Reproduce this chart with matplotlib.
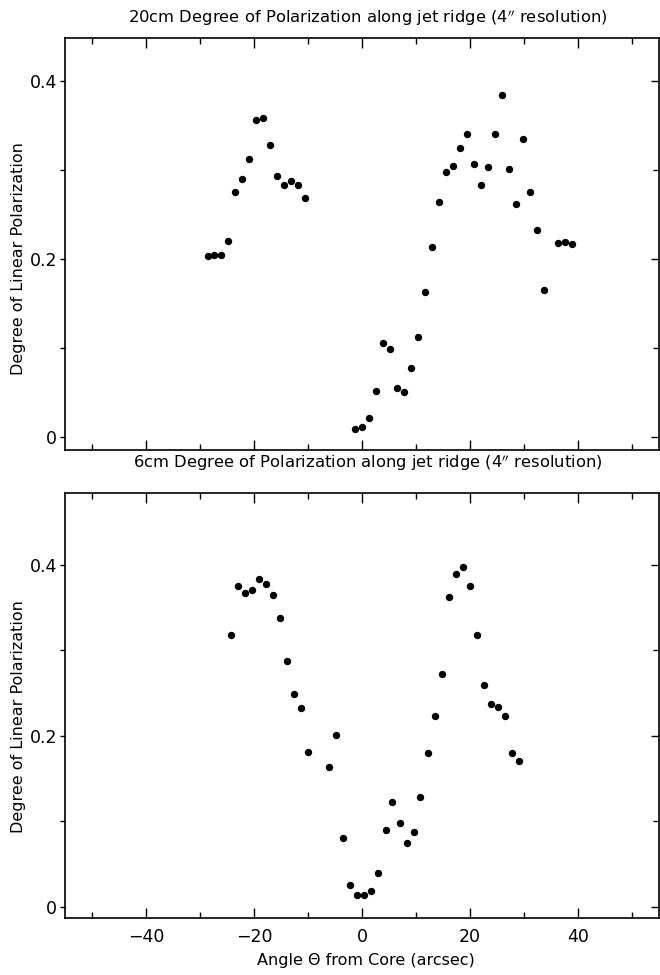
import matplotlib.pyplot as plt
from matplotlib.ticker import FixedLocator

# 20cm degree of polarization along the jet ridge
theta_20 = [-28.6, -27.4, -26.1, -24.8, -23.5, -22.2, -20.9, -19.6, -18.3, -17.0,
            -15.7, -14.4, -13.1, -11.8, -10.5,
            -1.3, 0.06, 1.35, 2.65, 3.94, 5.24, 6.54, 7.83, 9.13, 10.43,
            11.72, 12.96, 14.26, 15.61, 16.91, 18.15, 19.5, 20.74, 22.04, 23.33,
            24.69, 25.98, 27.22, 28.52, 29.87, 31.11, 32.41, 33.76, 36.35, 37.65, 38.94]
pol_20 = [0.204, 0.205, 0.205, 0.220, 0.276, 0.290, 0.313, 0.357, 0.359, 0.328,
          0.294, 0.284, 0.288, 0.283, 0.269,
          0.009, 0.011, 0.021, 0.052, 0.106, 0.099, 0.055, 0.051, 0.078, 0.113,
          0.163, 0.214, 0.264, 0.298, 0.305, 0.325, 0.341, 0.307, 0.283, 0.304,
          0.341, 0.385, 0.301, 0.262, 0.335, 0.276, 0.233, 0.165, 0.218, 0.219, 0.217]

# 6cm degree of polarization along the jet ridge
theta_6 = [-24.31, -22.96, -21.67, -20.37, -19.07, -17.78, -16.54, -15.24, -13.94, -12.65,
           -11.35, -10.06, -6.11, -4.81, -3.52, -2.17, -0.87, 0.43, 1.72, 3.02,
           4.39, 5.61, 6.98, 8.28, 9.57, 10.80, 12.17, 13.46, 14.81, 16.17,
           17.41, 18.70, 20.0, 21.24, 22.54, 23.83, 25.13, 26.43, 27.72, 29.02]
pol_6 = [0.318, 0.375, 0.367, 0.370, 0.383, 0.378, 0.365, 0.338, 0.288, 0.249,
         0.232, 0.181, 0.164, 0.201, 0.080, 0.026, 0.014, 0.014, 0.019, 0.040,
         0.090, 0.123, 0.098, 0.075, 0.087, 0.129, 0.180, 0.223, 0.272, 0.362,
         0.389, 0.398, 0.375, 0.318, 0.260, 0.237, 0.234, 0.223, 0.180, 0.171]

ytick_vals = [0, 0.2, 0.4]
ytick_labels = ['0', '0.2', '0.4']
xtick_vals = [-40, -20, 0, 20, 40]


def style_axes(ax, ylim, show_xlabels):
    ax.set_xlim(-55, 55)
    ax.set_ylim(*ylim)
    ax.set_xticks(xtick_vals)
    ax.xaxis.set_minor_locator(FixedLocator([-50, -30, -10, 10, 30, 50]))
    ax.set_yticks(ytick_vals)
    ax.set_yticklabels(ytick_labels)
    ax.yaxis.set_minor_locator(FixedLocator([0.1, 0.3]))
    ax.tick_params(axis='x', which='both', direction='in', top=True, bottom=True,
                   labelbottom=show_xlabels, labelsize=12.5, pad=7, width=1)
    ax.tick_params(axis='x', which='major', length=7)
    ax.tick_params(axis='x', which='minor', length=4.5)
    ax.tick_params(axis='y', which='both', direction='out', left=True, right=False,
                   length=3.5, width=1, labelsize=12.5, pad=2)
    for s in ax.spines.values():
        s.set_linewidth(1.2)

    # right-hand ticks point inwards
    tw = ax.twinx()
    tw.set_ylim(*ylim)
    tw.set_yticks(ytick_vals)
    tw.yaxis.set_minor_locator(FixedLocator([0.1, 0.3]))
    tw.tick_params(axis='y', which='both', direction='in', labelright=False, width=1)
    tw.tick_params(axis='y', which='major', length=6)
    tw.tick_params(axis='y', which='minor', length=4.5)
    for s in tw.spines.values():
        s.set_visible(False)


fig = plt.figure(figsize=(6.6, 9.75), dpi=100)
ax1 = fig.add_axes([0.0985, 0.5385, 0.9, 0.4226])
ax2 = fig.add_axes([0.0985, 0.0585, 0.9, 0.4359])

ax1.plot(theta_20, pol_20, 'o', color='black', ms=4.3)
ax2.plot(theta_6, pol_6, 'o', color='black', ms=4.3)

style_axes(ax1, (-0.0146, 0.449), False)
style_axes(ax2, (-0.013, 0.484), True)

ax1.set_ylabel('Degree of Linear Polarization', fontsize=11.5)
ax1.yaxis.set_label_coords(-0.066, 0.465)
ax2.set_ylabel('Degree of Linear Polarization', fontsize=11.5)
ax2.yaxis.set_label_coords(-0.066, 0.475)
ax2.set_xlabel('Angle \u0398 from Core (arcsec)', fontsize=11.5)
ax2.xaxis.set_label_coords(0.507, -0.082)

fig.text(0.557, 1 - 18 / 975, '20cm Degree of Polarization along jet ridge (4$^{\\prime\\prime}$ resolution)',
         ha='center', va='center', fontsize=11.8)
fig.text(0.557, 1 - 463 / 975, '6cm Degree of Polarization along jet ridge (4$^{\\prime\\prime}$ resolution)',
         ha='center', va='center', fontsize=11.8)

fig.savefig('out.png', dpi=100)
